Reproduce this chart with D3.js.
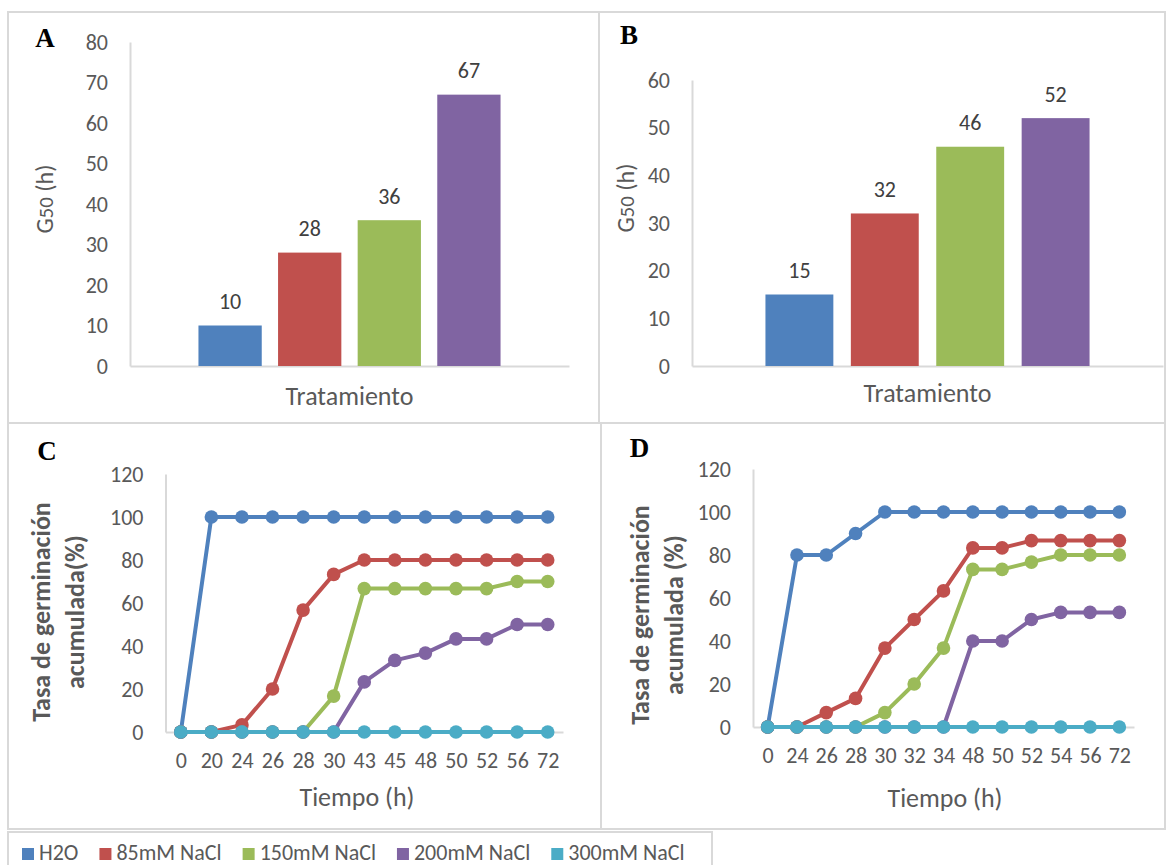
<!DOCTYPE html>
<html>
<head>
<meta charset="utf-8">
<script src="https://cdn.jsdelivr.net/npm/d3@7"></script>
<style>
  body { margin: 0; background: #fff; }
  svg { display: block; }
  text { font-family: Carlito, Lato, "Open Sans", sans-serif; fill: #595959; }
  .letter { font-family: "Liberation Serif", "DejaVu Serif", serif; font-weight: bold; fill: #000; font-size: 27px; }
</style>
</head>
<body>
<svg id="chart" width="1166" height="865"></svg>
<script>
// series names and colours
var treatments = ["H2O", "85mM NaCl", "150mM NaCl", "200mM NaCl", "300mM NaCl"];
var colors = ["#4F81BD", "#C0504D", "#9BBB59", "#8064A2", "#4BACC6"];

// G50 (h) bars
var g50_A = [10, 28, 36, 67];
var g50_B = [15, 32, 46, 52];
var ticks_A = [0, 10, 20, 30, 40, 50, 60, 70, 80];
var ticks_B = [0, 10, 20, 30, 40, 50, 60];

// cumulative germination (%)
var time_C = ["0", "20", "24", "26", "28", "30", "43", "45", "48", "50", "52", "56", "72"];
var c_h2o = [0, 100, 100, 100, 100, 100, 100, 100, 100, 100, 100, 100, 100];
var c_85  = [0, 0, 3.3, 20, 56.7, 73.3, 80, 80, 80, 80, 80, 80, 80];
var c_150 = [0, 0, 0, 0, 0, 16.7, 66.7, 66.7, 66.7, 66.7, 66.7, 70, 70];
var c_200 = [0, 0, 0, 0, 0, 0, 23.3, 33.3, 36.7, 43.3, 43.3, 50, 50];
var c_300 = [0, 0, 0, 0, 0, 0, 0, 0, 0, 0, 0, 0, 0];

var time_D = ["0", "24", "26", "28", "30", "32", "34", "48", "50", "52", "54", "56", "72"];
var d_h2o = [0, 80, 80, 90, 100, 100, 100, 100, 100, 100, 100, 100, 100];
var d_85  = [0, 0, 6.7, 13.3, 36.7, 50, 63.3, 83.3, 83.3, 86.7, 86.7, 86.7, 86.7];
var d_150 = [0, 0, 0, 0, 6.7, 20, 36.7, 73.3, 73.3, 76.7, 80, 80, 80];
var d_200 = [0, 0, 0, 0, 0, 0, 0, 40, 40, 50, 53.3, 53.3, 53.3];
var d_300 = [0, 0, 0, 0, 0, 0, 0, 0, 0, 0, 0, 0, 0];
var ticks_line = [0, 20, 40, 60, 80, 100, 120];

var svg = d3.select("#chart");
var axisColor = "#D9D9D9";

// panel frames
var frames = [
  {x: 8, y: 12, w: 591, h: 411},
  {x: 599, y: 12, w: 566, h: 411},
  {x: 8, y: 423, w: 593, h: 406},
  {x: 601, y: 423, w: 564, h: 406},
  {x: 8, y: 832, w: 704, h: 40}
];
svg.selectAll("rect.frame").data(frames).enter().append("rect")
  .attr("class", "frame")
  .attr("x", function(d){ return d.x; }).attr("y", function(d){ return d.y; })
  .attr("width", function(d){ return d.w; }).attr("height", function(d){ return d.h; })
  .attr("fill", "none").attr("stroke", axisColor).attr("stroke-width", 2);

function styleAxis(g){
  g.select(".domain").attr("stroke", axisColor).attr("stroke-width", 2);
  g.selectAll("text").style("fill", "#595959").style("font-family", null).attr("font-size", 22);
}

function barPanel(p){
  var x = d3.scaleBand().domain(p.values.map(function(d, i){ return i; }))
    .range([p.left, p.right]).paddingInner(0.205).paddingOuter(0.86);
  var y = d3.scaleLinear().domain([0, p.max]).range([p.bottom, p.top]);

  svg.append("g")
    .attr("transform", "translate(" + p.left + ",0)")
    .call(d3.axisLeft(y).tickValues(p.ticks).tickSize(0).tickPadding(22))
    .call(styleAxis);

  svg.append("g")
    .attr("transform", "translate(0," + p.bottom + ")")
    .call(d3.axisBottom(x).tickValues([]).tickSizeOuter(0))
    .call(styleAxis);

  svg.append("g").selectAll("rect")
    .data(p.values).enter().append("rect")
    .attr("x", function(d, i){ return x(i); })
    .attr("width", x.bandwidth())
    .attr("y", function(d){ return y(d); })
    .attr("height", function(d){ return p.bottom - y(d); })
    .attr("fill", function(d, i){ return colors[i]; });

  svg.append("g").selectAll("text")
    .data(p.values).enter().append("text")
    .attr("x", function(d, i){ return x(i) + x.bandwidth() / 2; })
    .attr("y", function(d){ return y(d) - 24; })
    .attr("dy", "0.35em")
    .attr("text-anchor", "middle")
    .attr("font-size", 22)
    .style("fill", "#404040")
    .text(function(d){ return d; });

  var yl = svg.append("text")
    .attr("transform", "translate(" + p.ylabX + "," + p.ylabY + ") rotate(-90)")
    .attr("text-anchor", "middle").attr("dy", "0.35em")
    .attr("font-size", 24);
  yl.append("tspan").text("G");
  yl.append("tspan").attr("font-size", 21).text("50");
  yl.append("tspan").text(" (h)");

  svg.append("text")
    .attr("x", (p.left + p.right) / 2).attr("y", p.titleY)
    .attr("dy", "0.35em").attr("text-anchor", "middle")
    .attr("font-size", 26)
    .text("Tratamiento");

  svg.append("text").attr("class", "letter")
    .attr("x", p.letterX).attr("y", p.letterY).attr("dy", "0.35em")
    .attr("text-anchor", "middle").text(p.letter);
}

function linePanel(p){
  var x = d3.scalePoint().domain(p.times).range([p.left, p.right]).padding(0.5);
  var y = d3.scaleLinear().domain([0, 120]).range([p.bottom, p.top]);

  svg.append("g")
    .attr("transform", "translate(" + p.left + ",0)")
    .call(d3.axisLeft(y).tickValues(ticks_line).tickSize(0).tickPadding(22))
    .call(styleAxis);

  svg.append("g")
    .attr("transform", "translate(0," + p.bottom + ")")
    .call(d3.axisBottom(x).tickSize(0).tickPadding(20))
    .call(styleAxis);

  var line = d3.line()
    .x(function(d, i){ return x(p.times[i]); })
    .y(function(d){ return y(d); });

  p.series.forEach(function(s, k){
    var g = svg.append("g");
    g.append("path")
      .attr("d", line(s))
      .attr("fill", "none")
      .attr("stroke", colors[k])
      .attr("stroke-width", 4)
      .attr("stroke-linejoin", "round");
    g.selectAll("circle")
      .data(s).enter().append("circle")
      .attr("cx", function(d, i){ return x(p.times[i]); })
      .attr("cy", function(d){ return y(d); })
      .attr("r", 6.8)
      .attr("fill", colors[k]);
  });

  p.ylab.forEach(function(t, i){
    svg.append("text")
      .attr("transform", "translate(" + p.ylabX[i] + "," + p.ylabY + ") rotate(-90)")
      .attr("text-anchor", "middle").attr("dy", "0.35em")
      .attr("font-size", 26).attr("font-weight", "bold")
      .text(t);
  });

  svg.append("text")
    .attr("x", p.titleX).attr("y", p.titleY)
    .attr("dy", "0.35em").attr("text-anchor", "middle")
    .attr("font-size", 26)
    .text("Tiempo (h)");

  svg.append("text").attr("class", "letter")
    .attr("x", p.letterX).attr("y", p.letterY).attr("dy", "0.35em")
    .attr("text-anchor", "middle").text(p.letter);
}

barPanel({values: g50_A, ticks: ticks_A, max: 80, left: 130, right: 569, bottom: 366, top: 42,
  ylabX: 45, ylabY: 199, titleY: 396, letter: "A", letterX: 45, letterY: 38});
barPanel({values: g50_B, ticks: ticks_B, max: 60, left: 692, right: 1163, bottom: 366, top: 80,
  ylabX: 626, ylabY: 198, titleY: 393, letter: "B", letterX: 629, letterY: 35});

linePanel({times: time_C, series: [c_h2o, c_85, c_150, c_200, c_300],
  left: 165.5, right: 563, bottom: 732, top: 474,
  ylab: ["Tasa de germinación", "acumulada(%)"], ylabX: [40.5, 75], ylabY: 612,
  titleX: 357, titleY: 797, letter: "C", letterX: 47, letterY: 451});
linePanel({times: time_D, series: [d_h2o, d_85, d_150, d_200, d_300],
  left: 753, right: 1134, bottom: 727, top: 469,
  ylab: ["Tasa de germinación", "acumulada (%)"], ylabX: [640, 674], ylabY: 615,
  titleX: 945, titleY: 798, letter: "D", letterX: 639.5, letterY: 447.5});

// legend
var legend = svg.append("g").attr("transform", "translate(22,860)");
var lx = 0;
treatments.forEach(function(t, i){
  legend.append("rect")
    .attr("x", lx).attr("y", -12).attr("width", 12).attr("height", 12)
    .attr("fill", colors[i]);
  var txt = legend.append("text")
    .attr("x", lx + 17).attr("y", 0)
    .attr("font-size", 22)
    .text(t);
  lx += 17 + txt.node().getComputedTextLength() + 21;
});
</script>
</body>
</html>
